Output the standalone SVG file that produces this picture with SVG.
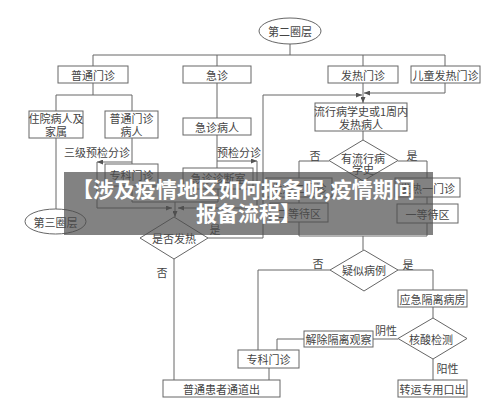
<svg xmlns="http://www.w3.org/2000/svg" width="500" height="407" viewBox="0 0 500 407">
<style>
.n{fill:#fff;stroke:#666;stroke-width:1}
.t{font-family:"Noto Sans CJK SC","Noto Sans CJK JP",sans-serif;font-size:11px;fill:#444;text-anchor:middle;dominant-baseline:central}
.c{fill:none;stroke:#666;stroke-width:1}
.a{marker-end:url(#ah)}
.b{font-family:"Noto Sans CJK SC",sans-serif;font-size:21px;font-weight:700;fill:#fff}
</style>
<defs>
<marker id="ah" markerWidth="6" markerHeight="5" refX="6" refY="2.5" orient="auto" markerUnits="userSpaceOnUse">
<path d="M0,0 L6,2.5 L0,5 Z" fill="#555"/>
</marker>
</defs>
<rect width="500" height="407" fill="#fff"/>
<g id="connectors">
<path class="c" d="M290,44 V55 M93,55 H445 M93,55 V66 M217,55 V66 M363,55 V66 M445,55 V66"/>
<path class="c" d="M93,83 V95 M56,95 H132 M56,95 V111 M132,95 V111"/>
<path class="c" d="M56,138 V209 M132,138 V164"/>
<path class="c a" d="M132,162 H97"/>
<path class="c a" d="M97,162 V208 H172"/>
<path class="c" d="M217,83 V118 M217,135 V168"/>
<path class="c a" d="M217,161 H257"/>
<path class="c a" d="M257,161 V208 H178"/>
<path class="c" d="M132,186 V202 H218 V189"/>
<path class="c a" d="M175,202 V217"/>
<path class="c" d="M174,259 V380"/>
<path class="c a" d="M208,238 H263 V95 H362"/>
<path class="c a" d="M445,83 V93 H364"/>
<path class="c a" d="M363,83 V103"/>
<path class="c" d="M363,131 V140"/>
<path class="c" d="M329,161 H299 V178 M299,197 V203 M299,222 V236 M398,161 H427 V178 M427,197 V204 M427,223 V236 M299,236 H427 M363,236 V250"/>
<path class="c" d="M330,270 H258 V350 M398,270 H433 V290 M433,307 V318 M433,359 V380"/>
<path class="c" d="M398,339 H373 M304,339 H277 V350 M269,368 V380"/>
</g>
<g id="n1"><ellipse class="n" cx="290" cy="31" rx="31" ry="13"/><text class="t" x="290" y="31">第二圈层</text></g>
<g id="n2"><rect class="n" x="58" y="66" width="70" height="17"/><text class="t" x="93" y="74.5">普通门诊</text></g>
<g id="n3"><rect class="n" x="183" y="66" width="68" height="17"/><text class="t" x="217" y="74.5">急诊</text></g>
<g id="n4"><rect class="n" x="328" y="66" width="70" height="17"/><text class="t" x="363" y="74.5">发热门诊</text></g>
<g id="n5"><rect class="n" x="411" y="66" width="69" height="17"/><text class="t" x="445.5" y="74.5">儿童发热门诊</text></g>
<g id="n6"><rect class="n" x="29" y="111" width="54" height="27"/><text class="t" x="56" y="118">住院病人及</text><text class="t" x="56" y="131">家属</text></g>
<g id="n7"><rect class="n" x="105" y="111" width="53" height="27"/><text class="t" x="131.5" y="118">普通门诊</text><text class="t" x="131.5" y="131">病人</text></g>
<g id="n8"><rect class="n" x="183" y="118" width="68" height="17"/><text class="t" x="217" y="126.5">急诊病人</text></g>
<g id="n9"><ellipse class="n" cx="55.5" cy="221.5" rx="30.5" ry="12.5"/><text class="t" x="55.5" y="221.5">第三圈层</text></g>
<g id="n10"><rect class="n" x="105" y="164" width="53" height="22"/><text class="t" x="131.5" y="175">专科门诊</text></g>
<g id="n11"><rect class="n" x="183" y="168" width="70" height="21"/><text class="t" x="218" y="178">急诊诊断室</text></g>
<g id="n12"><rect class="n" x="315" y="103" width="92" height="28"/><text class="t" x="361" y="110.5">流行病学史或1周内</text><text class="t" x="361" y="123.5">发热病人</text></g>
<g id="n13"><path class="n" d="M363,140 L398,160.5 L363,181 L329,160.5 Z"/><text class="t" x="363" y="157.5">有流行病</text><text class="t" x="363" y="169">学史</text></g>
<g id="n14"><rect class="n" x="266" y="178" width="66" height="19"/><text class="t" x="299" y="187.5">发热二门诊</text></g>
<g id="n15"><rect class="n" x="270" y="203" width="58" height="19"/><text class="t" x="299" y="212.5">二等待区</text></g>
<g id="n16"><rect class="n" x="395" y="178" width="65" height="19"/><text class="t" x="427.5" y="187.5">发热一门诊</text></g>
<g id="n17"><rect class="n" x="397" y="204" width="61" height="19"/><text class="t" x="427.5" y="213.5">一等待区</text></g>
<g id="n18"><path class="n" d="M174,217 L208,238 L174,259 L140,238 Z"/><text class="t" x="174" y="237.5">是否发热</text></g>
<g id="n19"><path class="n" d="M364,250 L398,270 L364,291 L330,270 Z"/><text class="t" x="364" y="270">疑似病例</text></g>
<g id="n20"><rect class="n" x="398" y="290" width="69" height="17"/><text class="t" x="432.5" y="298.5">应急隔离病房</text></g>
<g id="n21"><path class="n" d="M433,318 L467,338.5 L433,359 L398,338.5 Z"/><text class="t" x="431" y="338.5">核酸检测</text></g>
<g id="n22"><rect class="n" x="304" y="331" width="69" height="16"/><text class="t" x="338.5" y="339">解除隔离观察</text></g>
<g id="n23"><rect class="n" x="238" y="350" width="61" height="18"/><text class="t" x="268.5" y="359">专科门诊</text></g>
<g id="n24"><rect class="n" x="163" y="380" width="117" height="17"/><text class="t" x="221.5" y="388.5">普通患者通道出</text></g>
<g id="n25"><rect class="n" x="398" y="380" width="69" height="17"/><text class="t" x="432.5" y="388.5">转运专用口出</text></g>
<g id="labels">
<text class="t" x="97" y="152">三级预检分诊</text>
<text class="t" x="239" y="152">预检分诊</text>
<text class="t" x="315" y="155">否</text>
<text class="t" x="412" y="155">是</text>
<text class="t" x="215" y="229">是</text>
<text class="t" x="162" y="272">否</text>
<text class="t" x="318" y="263">否</text>
<text class="t" x="408" y="264">是</text>
<text class="t" x="386" y="329.5">阴性</text>
<text class="t" x="447.5" y="368">阳性</text>
</g>
<g id="banner">
<rect x="64" y="172" width="369" height="63" fill="#4d4d4d" opacity="0.7"/>
<text class="b" x="72" y="197">【涉及疫情地区如何报备呢,疫情期间</text>
<text class="b" x="196" y="221">报备流程】</text>
</g>
</svg>
